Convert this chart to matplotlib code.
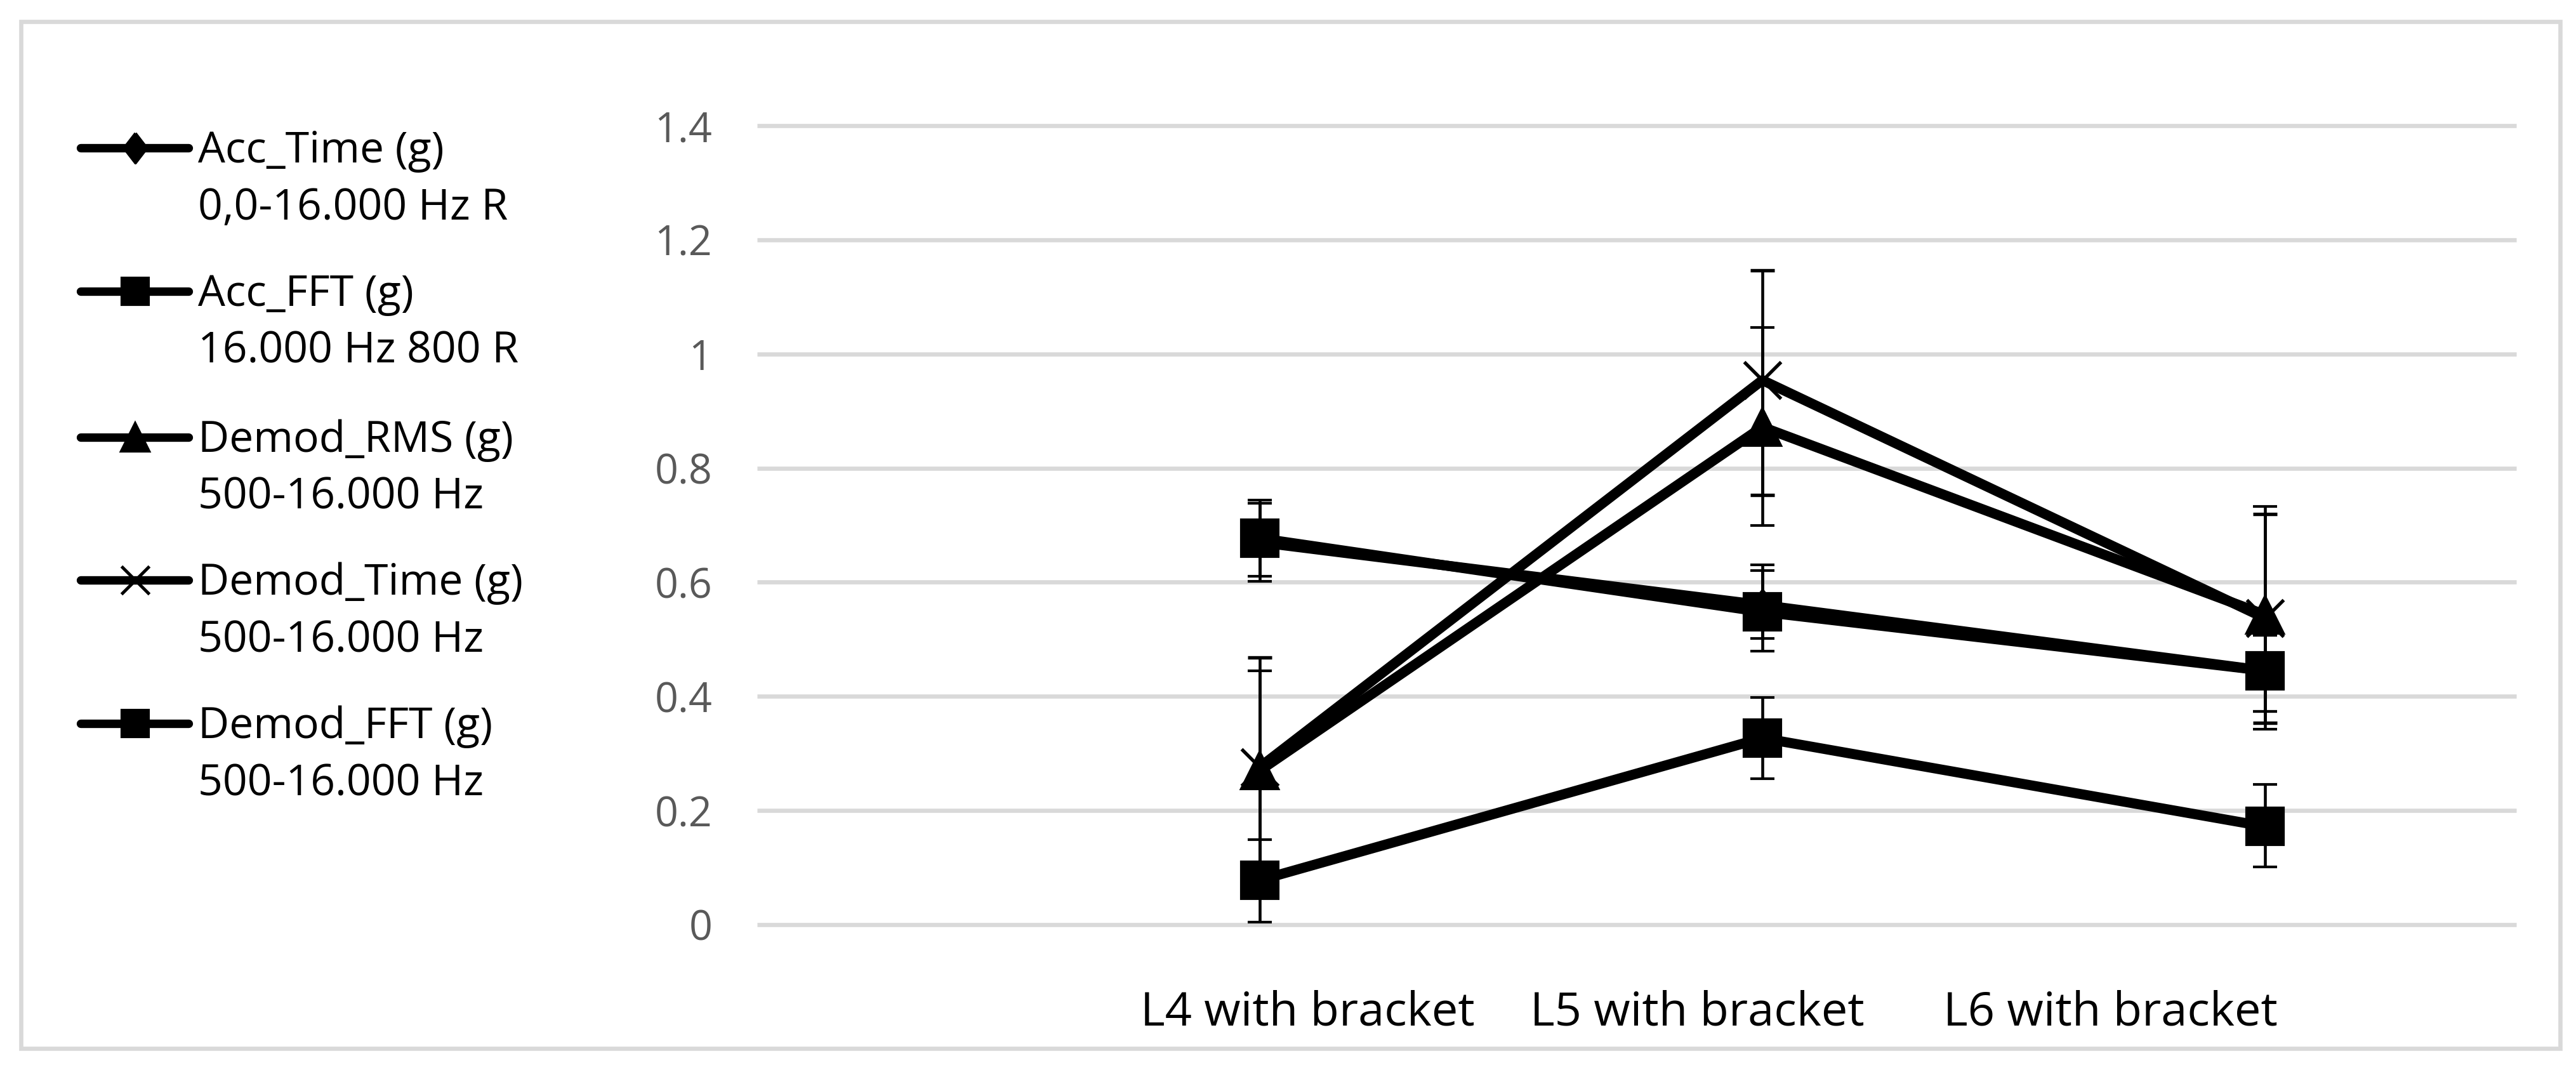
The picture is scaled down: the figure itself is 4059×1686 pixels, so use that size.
import numpy as np
import matplotlib
matplotlib.use("Agg")
import matplotlib.pyplot as plt
from matplotlib.lines import Line2D
from matplotlib.patches import Rectangle

plt.rcParams['font.family'] = ['Open Sans', 'DejaVu Sans']

# ---- data ----
x_pos = [0, 1, 2]
categories = ['L4 with bracket', 'L5 with bracket', 'L6 with bracket']
label_pos = [0.095, 0.870, 1.692]   # category labels sit off the points in the original

series_names = ['Acc_Time (g)', 'Acc_FFT (g)', 'Demod_RMS (g)', 'Demod_Time (g)', 'Demod_FFT (g)']
series_sub = ['0,0-16.000 Hz R', '16.000 Hz 800 R', '500-16.000 Hz', '500-16.000 Hz', '500-16.000 Hz']

acc_time = [0.670, 0.560, 0.445]
acc_time_lo = [0.068, 0.081, 0.071]
acc_time_hi = [0.068, 0.071, 0.062]

acc_fft = [0.677, 0.548, 0.445]
acc_fft_lo = [0.067, 0.046, 0.071]
acc_fft_hi = [0.067, 0.072, 0.062]

demod_rms = [0.270, 0.872, 0.543]
demod_rms_lo = [0.175, 0.172, 0.200]
demod_rms_hi = [0.175, 0.174, 0.190]

demod_time = [0.276, 0.954, 0.537]
demod_time_lo = [0.192, 0.201, 0.183]
demod_time_hi = [0.192, 0.193, 0.183]

demod_fft = [0.078, 0.327, 0.172]
demod_fft_lo = [0.073, 0.071, 0.071]
demod_fft_hi = [0.071, 0.071, 0.074]

y_ticks = [0, 0.2, 0.4, 0.6, 0.8, 1.0, 1.2, 1.4]
y_tick_labels = ['0', '0.2', '0.4', '0.6', '0.8', '1', '1.2', '1.4']

# ---- figure geometry (pixels of the 4059x1686 output) ----
W, H = 4059, 1686
DPI = 300


def fx(px):
    return px / W


def fy(py):
    return 1 - py / H


fig = plt.figure(figsize=(W / DPI, H / DPI), dpi=DPI)
fig.patch.set_facecolor('white')

# light grey frame round the whole chart
fig.add_artist(Rectangle((fx(33), fy(1652)), (4034 - 33) / W, (1652 - 34) / H,
                         transform=fig.transFigure, fill=False,
                         edgecolor='#D9D9D9', lw=1.6))

ax = fig.add_axes([fx(1193), fy(1457), (3965 - 1193) / W, (1457 - 198) / H])
ax.set_xlim(-1, 2.5)
ax.set_ylim(0, 1.4)
for s in ax.spines.values():
    s.set_visible(False)

# horizontal gridlines
ax.hlines(y_ticks, 0, 1, transform=ax.get_yaxis_transform(),
          colors='#D9D9D9', lw=1.6, zorder=0, clip_on=False)

ax.set_yticks(y_ticks, y_tick_labels)
ax.tick_params(axis='y', length=0, pad=17, labelsize=15.5, labelcolor='#595959')
ax.set_xticks(label_pos, categories)
ax.tick_params(axis='x', length=0, pad=38, labelsize=17.8, labelcolor='black')
plt.setp(ax.get_xticklabels(), va='baseline')

# tall, slightly narrow diamond like the one in the legend
diamond = [(0, 1), (0.77, 0), (0, -1), (-0.77, 0), (0, 1)]

series = [
    (acc_time, acc_time_lo, acc_time_hi, diamond, 11.3, 1.0),
    (acc_fft, acc_fft_lo, acc_fft_hi, 's', 14, 1.0),
    (demod_rms, demod_rms_lo, demod_rms_hi, '^', 14, 1.0),
    (demod_time, demod_time_lo, demod_time_hi, 'x', 14, 1.3),
    (demod_fft, demod_fft_lo, demod_fft_hi, 's', 14, 1.0),
]

for i, (vals, lo, hi, mk, ms, mew) in enumerate(series):
    ax.errorbar(x_pos, vals, yerr=[lo, hi], fmt='-', color='black',
                lw=3.8, marker=mk, ms=ms, mew=mew, mfc='black', mec='black',
                ecolor='black', elinewidth=1.1, capsize=4.6, capthick=1.1,
                zorder=2 + i, clip_on=False)

# ---- legend on the left, drawn by hand ----
legend_y = [233, 459, 689, 914, 1140]
legend_markers = [(diamond, 11.3, 1.0), ('s', 10, 1.0), ('^', 10.5, 1.0),
                  ('x', 10.5, 1.2), ('s', 10, 1.0)]

for y, name, sub, (mk, ms, mew) in zip(legend_y, series_names, series_sub, legend_markers):
    fig.add_artist(Line2D([fx(127), fx(297)], [fy(y), fy(y)], color='black',
                          lw=3.2, solid_capstyle='round', transform=fig.transFigure))
    fig.add_artist(Line2D([fx(213)], [fy(y)], marker=mk, ms=ms, mew=mew,
                          color='black', mfc='black', mec='black', ls='none',
                          transform=fig.transFigure))
    fig.text(fx(312), fy(y + 23), name, fontsize=16.3, va='baseline', color='black')
    fig.text(fx(312), fy(y + 113), sub, fontsize=16.3, va='baseline', color='black')

fig.savefig('out.png', dpi=DPI)
